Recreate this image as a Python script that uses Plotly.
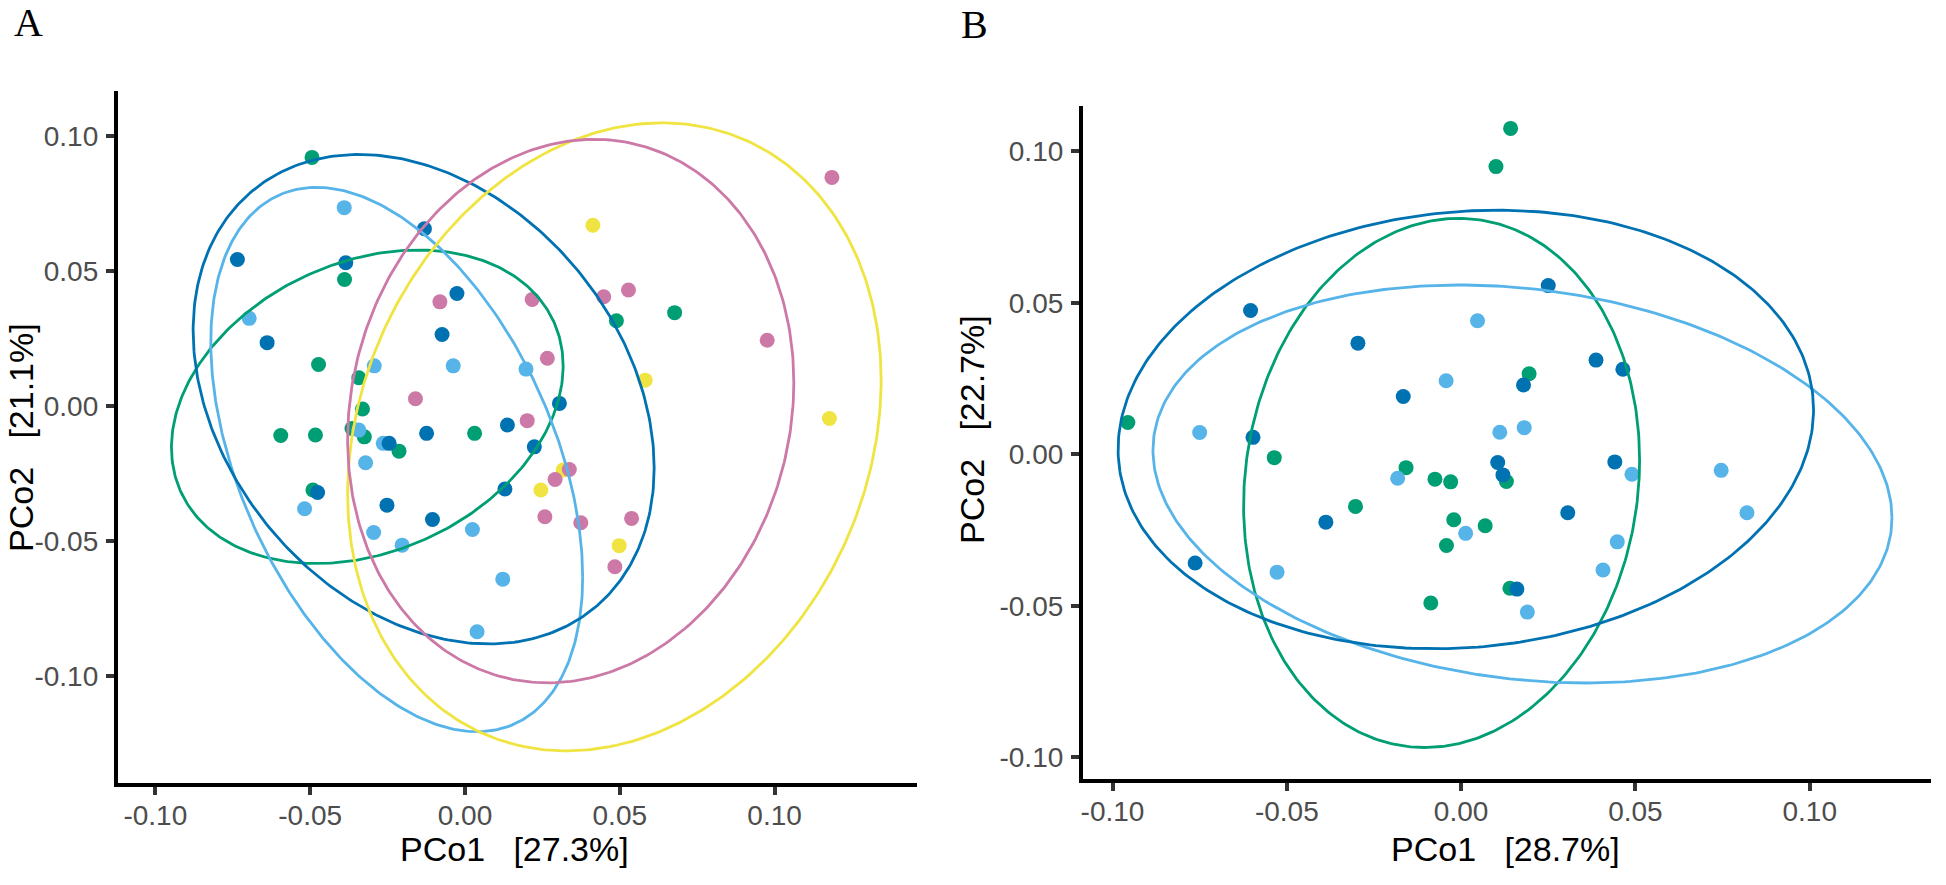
import numpy as np
import plotly.graph_objects as go

# ---------------- Panel A data ----------------
a_dark_x = [-0.0131, -0.0735, -0.0385, -0.0026, -0.0639, -0.0074, 0.0305, -0.0124, 0.0137, -0.0245, 0.0224, 0.0129, -0.0476, -0.0252, -0.0105]
a_dark_y = [0.0657, 0.0543, 0.0531, 0.0417, 0.0235, 0.0265, 0.0010, -0.0101, -0.0070, -0.0138, -0.0151, -0.0307, -0.0320, -0.0367, -0.0420]

a_light_x = [-0.0390, -0.0697, -0.0293, -0.0038, 0.0197, -0.0343, -0.0264, -0.0321, -0.0518, -0.0295, -0.0203, 0.0024, 0.0122, 0.0039]
a_light_y = [0.0735, 0.0325, 0.0149, 0.0149, 0.0137, -0.0089, -0.0138, -0.0210, -0.0380, -0.0468, -0.0515, -0.0457, -0.0641, -0.0836]

a_green_x = [-0.0494, -0.0389, -0.0473, -0.0343, -0.0331, -0.0595, -0.0483, -0.0365, -0.0325, 0.0031, -0.0213, -0.0491, 0.0489, 0.0677]
a_green_y = [0.0921, 0.0469, 0.0154, 0.0105, -0.0011, -0.0109, -0.0107, -0.0083, -0.0114, -0.0101, -0.0167, -0.0311, 0.0316, 0.0346]

a_pink_x = [-0.0081, 0.0217, 0.0266, -0.0160, 0.0201, 0.0337, 0.0291, 0.0258, 0.0374, 0.0538, 0.0484, 0.1185, 0.0448, 0.0528, 0.0976]
a_pink_y = [0.0386, 0.0395, 0.0177, 0.0027, -0.0054, -0.0235, -0.0272, -0.0410, -0.0432, -0.0416, -0.0595, 0.0847, 0.0405, 0.0430, 0.0244]

a_yellow_x = [0.0413, 0.0582, 0.1177, 0.0317, 0.0245, 0.0498]
a_yellow_y = [0.0670, 0.0096, -0.0046, -0.0237, -0.0311, -0.0517]

# ellipse parameters: centre x, centre y, half-width, half-height, correlation
a_dark_ell = [-0.01335, 0.00255, 0.07445, 0.09065, -0.281]
a_light_ell = [-0.02205, -0.0198, 0.06005, 0.1008, -0.432]
a_green_ell = [-0.03155, -0.00025, 0.06325, 0.05805, 0.26]
a_pink_ell = [0.03415, -0.00185, 0.07205, 0.10065, 0.105]
a_yellow_ell = [0.04825, -0.0114, 0.08615, 0.1163, 0.18]

# ---------------- Panel B data ----------------
b_dark_x = [0.0250, -0.0604, -0.0296, 0.0179, -0.0166, -0.0597, 0.0105, 0.0120, -0.0388, -0.0763, 0.0160, 0.0387, 0.0464, 0.0441, 0.0306]
b_dark_y = [0.0557, 0.0475, 0.0367, 0.0229, 0.0191, 0.0056, -0.0027, -0.0068, -0.0224, -0.0359, -0.0445, 0.0311, 0.0281, -0.0025, -0.0193]

b_light_x = [0.0047, -0.0043, -0.0750, 0.0111, 0.0181, -0.0182, 0.0013, -0.0528, 0.0190, 0.0490, 0.0746, 0.0820, 0.0448, 0.0407]
b_light_y = [0.0441, 0.0243, 0.0072, 0.0073, 0.0088, -0.0079, -0.0261, -0.0389, -0.0521, -0.0066, -0.0053, -0.0193, -0.0289, -0.0382]

b_green_x = [0.0142, 0.0100, 0.0195, -0.0956, -0.0536, -0.0158, -0.0075, -0.0030, 0.0130, -0.0303, -0.0021, 0.0069, -0.0042, 0.0140, -0.0087]
b_green_y = [0.1076, 0.0950, 0.0266, 0.0105, -0.0011, -0.0044, -0.0082, -0.0091, -0.0090, -0.0172, -0.0216, -0.0236, -0.0301, -0.0442, -0.0491]

b_dark_ell = [0.00135, 0.0082, 0.09975, 0.0724, 0.09]
b_light_ell = [0.0176, -0.0098, 0.1060, 0.0657, -0.17]
b_green_ell = [-0.0056, -0.00945, 0.0568, 0.08735, 0.086]

# ---------------- labels ----------------
tick_vals = [-0.10, -0.05, 0.00, 0.05, 0.10]
tick_text = ["-0.10", "-0.05", "0.00", "0.05", "0.10"]
a_xtitle = "PCo1\u00a0\u00a0\u00a0[27.3%]"
a_ytitle = "PCo2\u00a0\u00a0\u00a0[21.1%]"
b_xtitle = "PCo1\u00a0\u00a0\u00a0[28.7%]"
b_ytitle = "PCo2\u00a0\u00a0\u00a0[22.7%]"

C_DARK = "#0072B2"
C_LIGHT = "#56B4E9"
C_GREEN = "#009E73"
C_PINK = "#CC79A7"
C_YELLOW = "#F0E442"

W, H = 1946, 885


def ellipse(p, n=361):
    cx, cy, sx, sy, r = p
    t = np.linspace(0, 2 * np.pi, n)
    x = cx + sx * np.cos(t)
    y = cy + sy * (r * np.cos(t) + np.sqrt(1 - r * r) * np.sin(t))
    return x, y


fig = go.Figure()

panel_a = [
    (a_green_x, a_green_y, a_green_ell, C_GREEN),
    (a_light_x, a_light_y, a_light_ell, C_LIGHT),
    (a_dark_x, a_dark_y, a_dark_ell, C_DARK),
    (a_yellow_x, a_yellow_y, a_yellow_ell, C_YELLOW),
    (a_pink_x, a_pink_y, a_pink_ell, C_PINK),
]
panel_b = [
    (b_green_x, b_green_y, b_green_ell, C_GREEN),
    (b_light_x, b_light_y, b_light_ell, C_LIGHT),
    (b_dark_x, b_dark_y, b_dark_ell, C_DARK),
]

MS = 15
LW = 2.8

for (xs, ys, ell, col) in panel_a:
    fig.add_trace(go.Scatter(x=xs, y=ys, mode="markers", xaxis="x", yaxis="y",
                             marker=dict(size=MS, color=col, line=dict(width=0)),
                             showlegend=False, hoverinfo="skip"))
for (xs, ys, ell, col) in panel_a:
    ex, ey = ellipse(ell)
    fig.add_trace(go.Scatter(x=ex, y=ey, mode="lines", xaxis="x", yaxis="y",
                             line=dict(color=col, width=LW), showlegend=False, hoverinfo="skip"))

for (xs, ys, ell, col) in panel_b:
    fig.add_trace(go.Scatter(x=xs, y=ys, mode="markers", xaxis="x2", yaxis="y2",
                             marker=dict(size=MS, color=col, line=dict(width=0)),
                             showlegend=False, hoverinfo="skip"))
for (xs, ys, ell, col) in panel_b:
    ex, ey = ellipse(ell)
    fig.add_trace(go.Scatter(x=ex, y=ey, mode="lines", xaxis="x2", yaxis="y2",
                             line=dict(color=col, width=LW), showlegend=False, hoverinfo="skip"))

axis_common = dict(
    showline=True, linecolor="black", linewidth=4,
    ticks="outside", ticklen=8, tickwidth=3.5, tickcolor="#333333",
    showgrid=False, zeroline=False,
    tickfont=dict(family="Liberation Sans", size=28, color="#4d4d4d"),
    tickvals=tick_vals, ticktext=tick_text,
    fixedrange=True,
)
xaxis_extra = dict(ticklabelstandoff=-4)
yaxis_extra = dict(ticklabelstandoff=2)

# pixel layout -> paper fractions
ax_l, ax_r, ax_t, ax_b = 116, 916, 91, 783
bx_l, bx_r, bx_t, bx_b = 1082, 1931, 106, 779

fig.update_layout(
    width=W, height=H,
    margin=dict(l=0, r=0, t=0, b=0),
    paper_bgcolor="white", plot_bgcolor="white",
    xaxis=dict(axis_common, **xaxis_extra, domain=[ax_l / W, ax_r / W], range=[-0.1121, 0.1460], anchor="y"),
    yaxis=dict(axis_common, **yaxis_extra, domain=[1 - ax_b / H, 1 - ax_t / H], range=[-0.1396, 0.1167], anchor="x"),
    xaxis2=dict(axis_common, **xaxis_extra, domain=[bx_l / W, bx_r / W], range=[-0.1085, 0.1348], anchor="y2"),
    yaxis2=dict(axis_common, **yaxis_extra, domain=[1 - bx_b / H, 1 - bx_t / H], range=[-0.1072, 0.1150], anchor="x2"),
)

title_font = dict(family="Liberation Sans", size=34, color="black")
letter_font = dict(family="Liberation Serif", size=40, color="black")
annotations = [
    dict(text=a_xtitle, x=513 / W, y=1 - 849 / H, xref="paper", yref="paper",
         xanchor="center", yanchor="middle", showarrow=False, font=title_font),
    dict(text=b_xtitle, x=1505 / W, y=1 - 849 / H, xref="paper", yref="paper",
         xanchor="center", yanchor="middle", showarrow=False, font=title_font),
    dict(text=a_ytitle, x=19 / W, y=1 - 437 / H, xref="paper", yref="paper", textangle=-90,
         xanchor="center", yanchor="middle", showarrow=False, font=title_font),
    dict(text=b_ytitle, x=971 / W, y=1 - 430 / H, xref="paper", yref="paper", textangle=-90,
         xanchor="center", yanchor="middle", showarrow=False, font=title_font),
    dict(text="A", x=27 / W, y=1 - 22 / H, xref="paper", yref="paper",
         xanchor="center", yanchor="middle", showarrow=False, font=letter_font),
    dict(text="B", x=974 / W, y=1 - 25 / H, xref="paper", yref="paper",
         xanchor="center", yanchor="middle", showarrow=False, font=letter_font),
]
fig.update_layout(annotations=annotations)

fig.write_html(
    "out.html",
    config={"displayModeBar": False},
    post_script="document.body.style.margin='0';document.body.style.padding='0';"
                "document.body.style.overflow='hidden';",
)
